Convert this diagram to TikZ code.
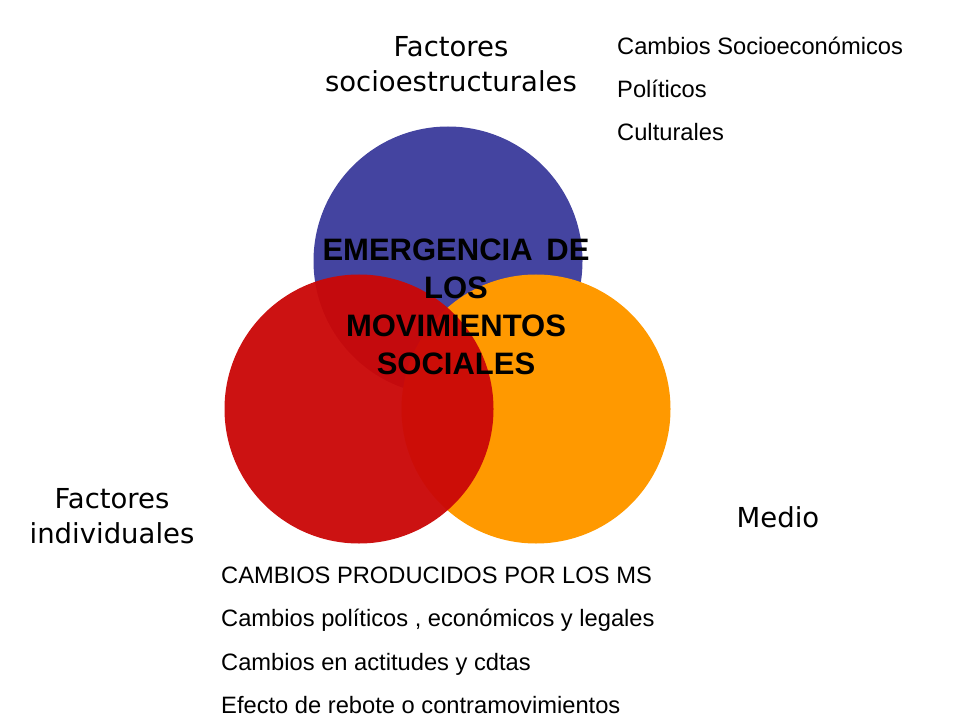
\documentclass[tikz,border=0pt]{standalone}
\usepackage{fontspec}
\setmainfont{Liberation Sans}
\newfontfamily\labelfont{DejaVu Sans}
\definecolor{circblue}{RGB}{68,68,160}
\definecolor{circorange}{RGB}{255,153,0}
\definecolor{circred}{RGB}{202,8,8}
\tikzset{
	circ/.style={circle, minimum size=269bp, inner sep=0pt},
	factor/.style={font=\labelfont\fontsize{27.5bp}{35bp}\selectfont, align=center, inner sep=0pt},
	item/.style={font=\fontsize{23.7bp}{28bp}\selectfont, anchor=base west, inner sep=0pt}
}
\begin{document}
\begin{tikzpicture}[x=1bp, y=-1bp]
	\useasboundingbox (0,0) rectangle (960,720);
	
	\node[circ, fill=circblue] (socio) at (448,261) {};
	\node[circ, fill=circorange] (medio) at (536,409) {};
	\node[circ, fill=circred, fill opacity=.96] (indiv) at (359,409) {};
	
	\node[font=\bfseries\fontsize{31bp}{38bp}\selectfont, align=center, inner sep=0pt] (emerg) at (456,307) {EMERGENCIA\ \,DE\\LOS\\MOVIMIENTOS\\SOCIALES};
	
	\node[factor] (fsocio) at (451,64.5) {Factores\\socioestructurales};
	\node[factor] (findiv) at (112,516) {Factores\\individuales};
	\node[factor, anchor=base] (fmedio) at (778,527) {Medio};
	
	\foreach \i/\txt in {0/Cambios Socioeconómicos, 1/Políticos, 2/Culturales}
	\node[item] (top\i) at (617,55+42.7*\i) {\txt};
	
	\foreach \i/\txt in {0/CAMBIOS PRODUCIDOS POR LOS MS, 1/{Cambios políticos , económicos y legales}, 2/Cambios en actitudes y cdtas, 3/Efecto de rebote o contramovimientos}
	\node[item] (bot\i) at (221,583+43.6*\i) {\txt};
\end{tikzpicture}
\end{document}
